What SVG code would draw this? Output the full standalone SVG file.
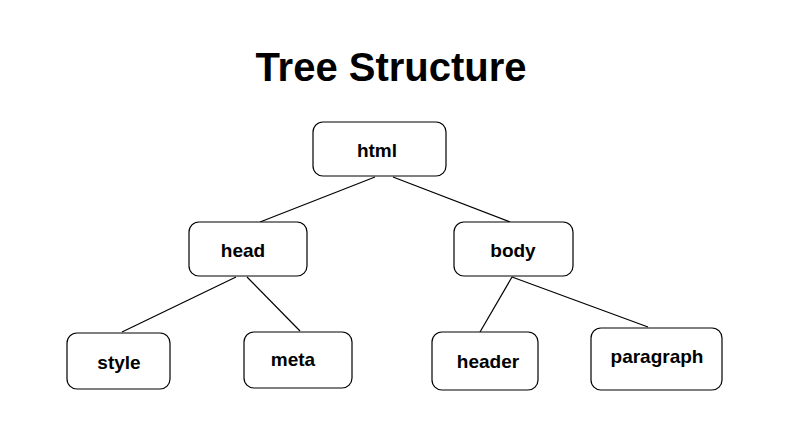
<svg xmlns="http://www.w3.org/2000/svg" width="794" height="446" viewBox="0 0 794 446">
<style>
.n{fill:#fff;stroke:#000;stroke-width:1.2}
.t{font-family:"Liberation Sans",Arial,sans-serif;font-weight:bold;font-size:19px;text-anchor:middle}
.c line{stroke:#000;stroke-width:1.2}
</style>
<rect width="794" height="446" fill="#fff"/>
<text x="391" y="81" font-family="Liberation Sans,Arial,sans-serif" font-weight="bold" font-size="40" text-anchor="middle">Tree Structure</text>
<g class="c" id="connectors">
<line x1="375" y1="177" x2="260" y2="222"/>
<line x1="393" y1="177" x2="510" y2="222"/>
<line x1="236" y1="277" x2="122" y2="332"/>
<line x1="247" y1="277" x2="300" y2="331"/>
<line x1="512" y1="277" x2="480" y2="332"/>
<line x1="512" y1="277" x2="648" y2="327"/>
</g>
<g id="html"><rect class="n" x="313" y="122" width="133" height="54" rx="10"/><text class="t" x="377" y="157">html</text></g>
<g id="head"><rect class="n" x="189" y="222" width="118" height="54" rx="10"/><text class="t" x="243" y="257">head</text></g>
<g id="body"><rect class="n" x="454" y="222" width="119" height="54" rx="10"/><text class="t" x="513" y="257">body</text></g>
<g id="style"><rect class="n" x="67" y="333" width="103" height="56" rx="10"/><text class="t" x="119" y="369">style</text></g>
<g id="meta"><rect class="n" x="244" y="332" width="108" height="56" rx="10"/><text class="t" x="293" y="366">meta</text></g>
<g id="header"><rect class="n" x="432" y="332" width="106" height="58" rx="10"/><text class="t" x="488" y="368">header</text></g>
<g id="paragraph"><rect class="n" x="591" y="328" width="131" height="62" rx="10"/><text class="t" x="657" y="363">paragraph</text></g>
</svg>
